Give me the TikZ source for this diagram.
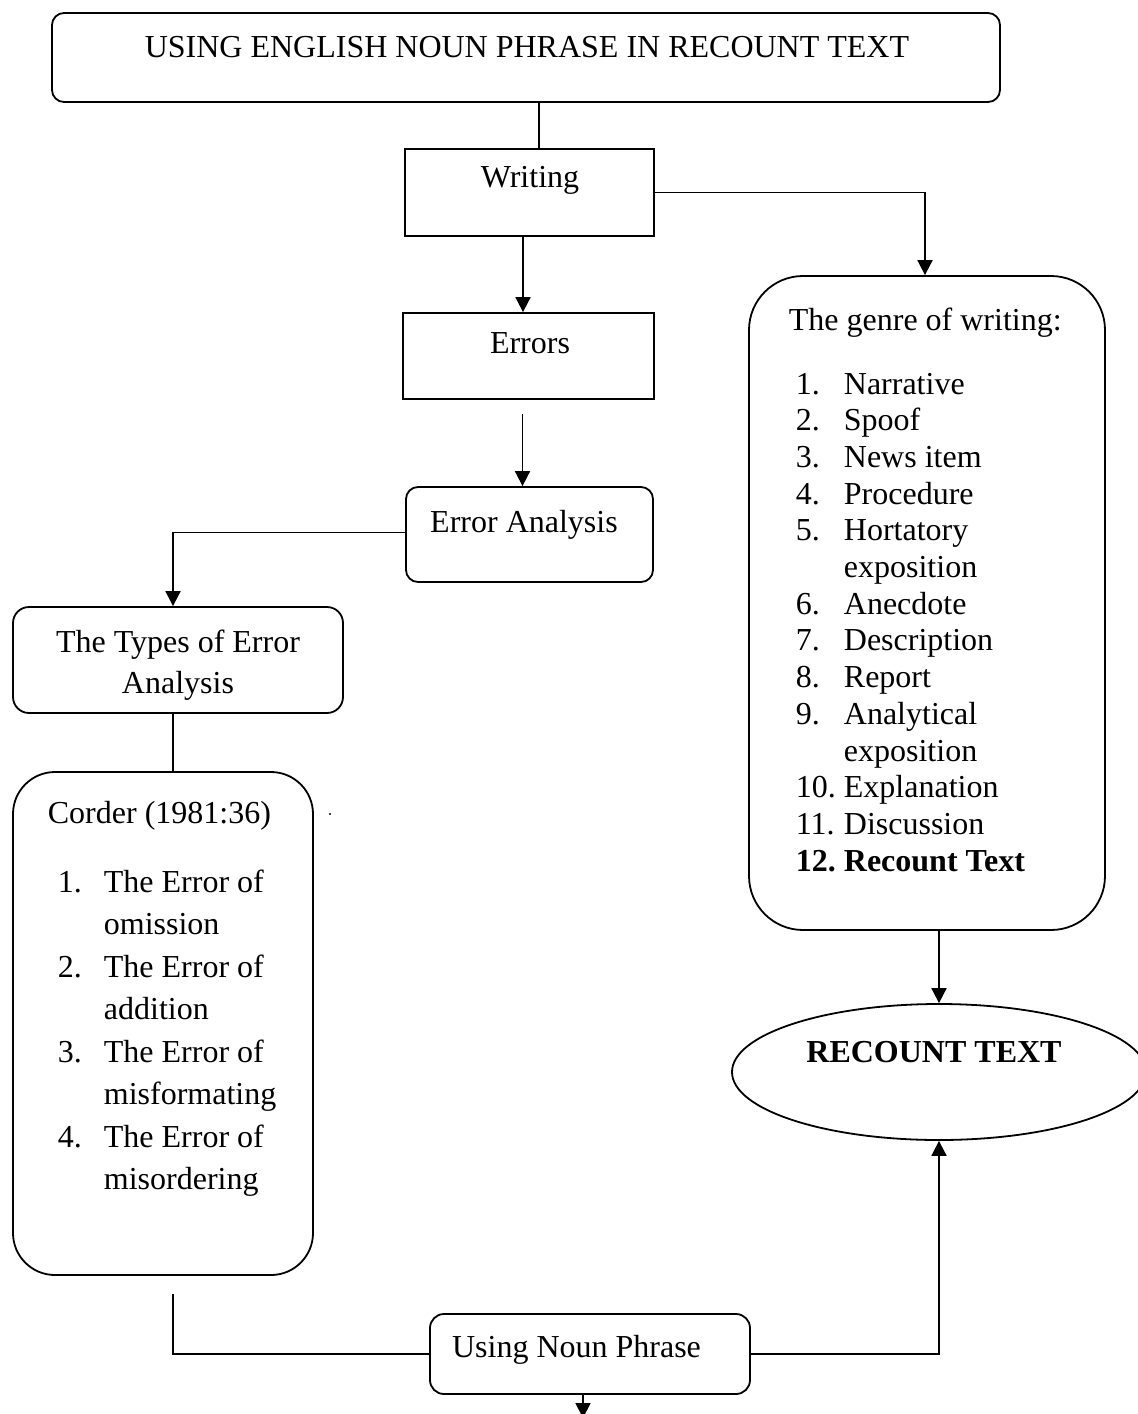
\documentclass[tikz,border=0pt]{standalone}
\usepackage{fontspec}
\setmainfont{Liberation Serif}
\usepackage{tikz}
\usetikzlibrary{arrows.meta,shapes.geometric}

\begin{document}
\begin{tikzpicture}[x=0.5pt,y=-0.5pt,>={Triangle[length=7.5pt,width=7.5pt]},line width=0.9pt,
    font=\fontsize{16}{19}\selectfont,
    rbox/.style={draw,rounded corners=6pt,inner sep=0pt},
    sbox/.style={draw,inner sep=0pt},
    lbl/.style={anchor=base,inner sep=0pt},
    lst/.style={anchor=base west,inner sep=0pt}]
  \path[fill=white] (0,0) rectangle (1137,1414);
  \useasboundingbox (0,0) rectangle (1137,1414);
  % boxes
  \node[rbox,minimum width=474pt,minimum height=44.5pt] (title) at (526,57.5) {};
  \node[sbox,minimum width=124.5pt,minimum height=43.5pt] (writing) at (529.5,192.5) {};
  \node[sbox,minimum width=125.5pt,minimum height=43pt] (errors) at (528.5,356) {};
  \node[rbox,minimum width=123.5pt,minimum height=47.5pt] (erran) at (529.5,534.5) {};
  \node[rbox,rounded corners=8pt,minimum width=165pt,minimum height=53pt] (types) at (178,660) {};
  \node[rbox,rounded corners=21pt,minimum width=150pt,minimum height=251.5pt] (corder) at (163,1023.5) {};
  \node[rbox,rounded corners=27pt,minimum width=178pt,minimum height=327pt] (genre) at (927,603) {};
  \node[draw,ellipse,inner sep=0pt,minimum width=207pt,minimum height=68pt] (recount) at (939,1072) {};
  \node[rbox,rounded corners=7pt,minimum width=160pt,minimum height=40pt] (noun) at (590,1354) {};
  % texts
  \node[lbl] (title-l) at (527,57) {USING ENGLISH NOUN PHRASE IN RECOUNT TEXT};
  \node[lbl] (writing-l) at (530,187) {Writing};
  \node[lbl] (errors-l) at (530,353) {Errors};
  \node[lbl] (erran-l) at (524,532) {Error Analysis};
  \node[lbl,font=\fontsize{16}{20.5}\selectfont] (types-l) at (178,652)
    {\begin{tabular}[t]{@{}c@{}}The Types of Error\\Analysis\end{tabular}};
  \node[lst] (corder-h) at (47,823) {Corder (1981:36)};
  \node[lst,font=\fontsize{16}{21.25}\selectfont] (corder-l) at (57,892)
    {\begin{tabular}[t]{@{}p{23pt}@{}l@{}}
      1. & The Error of\\ & omission\\
      2. & The Error of\\ & addition\\
      3. & The Error of\\ & misformating\\
      4. & The Error of\\ & misordering
    \end{tabular}};
  \node[lst] (genre-h) at (788,330) {The genre of writing:};
  \node[lst,font=\fontsize{16}{18.35}\selectfont] (genre-l) at (795,394)
    {\begin{tabular}[t]{@{}p{24pt}@{}l@{}}
      1. & Narrative\\ 2. & Spoof\\ 3. & News item\\ 4. & Procedure\\
      5. & Hortatory\\ & exposition\\ 6. & Anecdote\\ 7. & Description\\
      8. & Report\\ 9. & Analytical\\ & exposition\\ 10. & Explanation\\
      11. & Discussion\\ \textbf{12.} & \textbf{Recount Text}
    \end{tabular}};
  \node[lbl,font=\fontsize{16}{19}\bfseries] (recount-l) at (934,1062) {RECOUNT TEXT};
  \node[lbl] (noun-l) at (576.5,1357) {Using Noun Phrase};
  \fill (330,814) circle (0.6pt);
  % connectors
  \draw ([xshift=4.75pt]writing.north) -- ([xshift=4.75pt]writing.north |- title.south);
  \draw[->] ([xshift=-3.25pt]writing.south) -- ([xshift=-3.25pt]writing.south |- errors.north);
  \draw[->] ([xshift=-3pt,yshift=-7pt]errors.south) -- ([xshift=-3pt]errors.south |- erran.north);
  \draw[->] (writing.east) -| ([xshift=-1pt]genre.north);
  \draw[->] ([yshift=1pt]erran.west) -| ([xshift=-2.5pt]types.north);
  \draw ([xshift=-2.5pt]types.south) -- ([xshift=-2.5pt]types.south |- corder.north);
  \draw ([xshift=5pt,yshift=-9pt]corder.south) |- (noun.west);
  \draw[->] (genre.south -| recount.north) -- (recount.north);
  \draw[->] (noun.east) -| (recount.south);
  \coordinate (nounout) at (583,1418);
  \draw[->] ([xshift=-3.5pt]noun.south) -- (nounout);
\end{tikzpicture}
\end{document}
